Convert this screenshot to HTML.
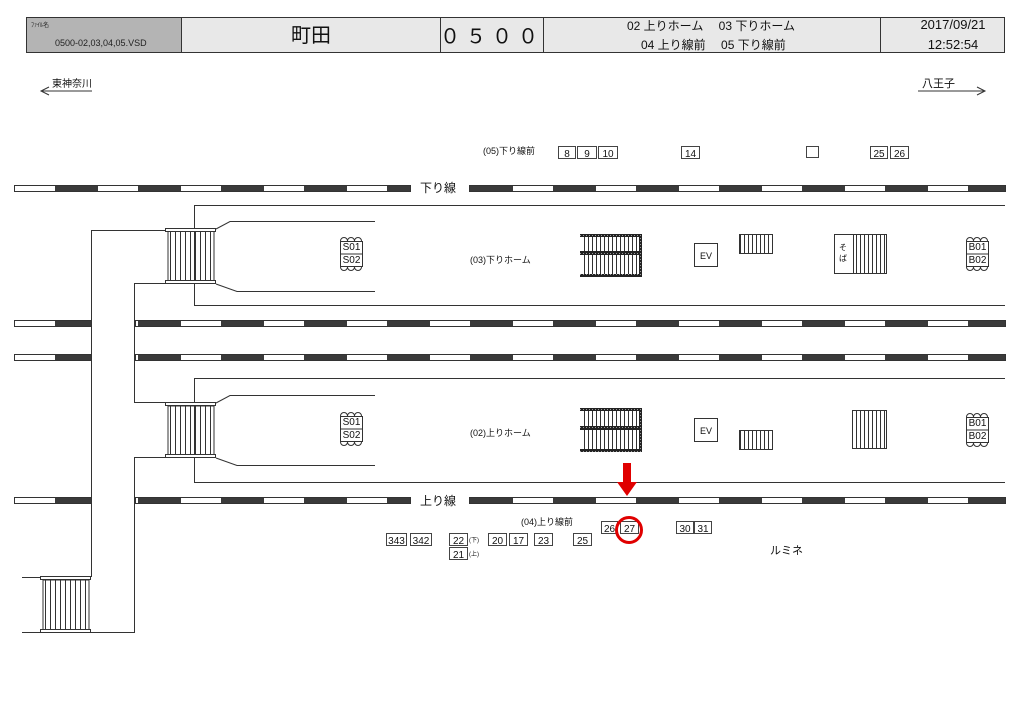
<!DOCTYPE html>
<html><head><meta charset="utf-8"><style>
html,body{margin:0;padding:0;background:#fff;}
svg{display:block;font-family:"Liberation Sans","Noto Sans CJK JP",sans-serif;}
</style></head><body>
<svg width="1024" height="724" viewBox="0 0 1024 724" xmlns="http://www.w3.org/2000/svg">
<defs>
<pattern id="tie" patternUnits="userSpaceOnUse" x="55" y="0" width="83" height="10">
<rect x="0" y="0" width="43" height="10" fill="#3a3a3a"/>
</pattern>
<pattern id="stv" patternUnits="userSpaceOnUse" x="0" y="0" width="5" height="10">
<rect x="0" y="0" width="1" height="10" fill="#333"/>
</pattern>
<pattern id="stv4" patternUnits="userSpaceOnUse" x="0" y="0" width="4" height="10">
<rect x="0" y="0" width="1" height="10" fill="#333"/>
</pattern>
<pattern id="dot" patternUnits="userSpaceOnUse" width="3" height="3">
<rect width="3" height="3" fill="#222"/><rect x="1" y="1" width="1" height="1" fill="#999"/>
</pattern>
</defs>

<!-- header -->
<g stroke="#333" stroke-width="1">
<rect x="26.5" y="17.5" width="155" height="35" fill="#b4b4b4"/>
<rect x="181.5" y="17.5" width="259" height="35" fill="#e8e8e8"/>
<rect x="440.5" y="17.5" width="103" height="35" fill="#e8e8e8"/>
<rect x="543.5" y="17.5" width="337" height="35" fill="#e8e8e8"/>
<rect x="880.5" y="17.5" width="124" height="35" fill="#e8e8e8"/>
</g>
<text x="31" y="27" font-size="6" fill="#222">ﾌｧｲﾙ名</text>
<text x="55" y="46" font-size="9" fill="#222">0500-02,03,04,05.VSD</text>
<text x="311" y="42" font-size="20" text-anchor="middle" fill="#111">町田</text>
<text x="492" y="43" font-size="20" text-anchor="middle" fill="#111" letter-spacing="6">０５００</text>
<text x="627" y="30" font-size="12" fill="#111">02 上りホーム　 03 下りホーム</text>
<text x="641" y="49" font-size="12" fill="#111">04 上り線前　 05 下り線前</text>
<text x="953" y="29" font-size="13" text-anchor="middle" fill="#111">2017/09/21</text>
<text x="953" y="49" font-size="13" text-anchor="middle" fill="#111">12:52:54</text>

<!-- direction -->
<text x="52" y="87" font-size="10" fill="#111">東神奈川</text>
<path d="M41 91H92M49 87L41 91L49 95" fill="none" stroke="#333"/>
<text x="922" y="87" font-size="11" fill="#111">八王子</text>
<path d="M918 91H985M977 87L985 91L977 95" fill="none" stroke="#333"/>

<!-- tracks -->
<g stroke="#333" stroke-width="1">
<rect x="14.5" y="185.5" width="396" height="6" fill="url(#tie)"/>
<rect x="469.5" y="185.5" width="536" height="6" fill="url(#tie)"/>
<rect x="14.5" y="320.5" width="77" height="6" fill="url(#tie)"/>
<rect x="135.5" y="320.5" width="870" height="6" fill="url(#tie)"/>
<rect x="14.5" y="354.5" width="77" height="6" fill="url(#tie)"/>
<rect x="135.5" y="354.5" width="870" height="6" fill="url(#tie)"/>
<rect x="14.5" y="497.5" width="77" height="6" fill="url(#tie)"/>
<rect x="135.5" y="497.5" width="275" height="6" fill="url(#tie)"/>
<rect x="469.5" y="497.5" width="536" height="6" fill="url(#tie)"/>
</g>
<text x="438" y="192" font-size="12" text-anchor="middle" fill="#111">下り線</text>
<text x="438" y="505" font-size="12" text-anchor="middle" fill="#111">上り線</text>

<!-- overpass and platforms lines -->
<g fill="none" stroke="#333" stroke-width="1">
<path d="M91.5 577V230.5H166"/>
<path d="M166 283.5H134.5V402.5H166"/>
<path d="M166 457.5H134.5V632.5H22"/>
<path d="M22 577.5H41"/>
<path d="M1005 205.5H194.5V305.5H1005"/>
<path d="M216 229L230 221.5H375"/>
<path d="M216 284L237 291.5H375"/>
<path d="M1005 378.5H194.5V482.5H1005"/>
<path d="M216 403L230 395.5H375"/>
<path d="M216 458L237 465.5H375"/>
</g>

<!-- overpass stairs -->
<g stroke="#333" stroke-width="1">
<rect x="168" y="231" width="46" height="50" fill="url(#stv)"/>
<rect x="165.5" y="228.5" width="50" height="3" fill="#fff"/>
<rect x="165.5" y="280.5" width="50" height="3" fill="#fff"/>
<rect x="168" y="406" width="46" height="49" fill="url(#stv)"/>
<rect x="165.5" y="402.5" width="50" height="3" fill="#fff"/>
<rect x="165.5" y="454.5" width="50" height="3" fill="#fff"/>
<rect x="43" y="580" width="46" height="50" fill="url(#stv)"/>
<rect x="40.5" y="576.5" width="50" height="3" fill="#fff"/>
<rect x="40.5" y="629.5" width="50" height="3" fill="#fff"/>
</g>

<!-- escalators -->
<g stroke="#222">
<rect x="581" y="236" width="58" height="40" fill="url(#stv4)" stroke="none"/>
<rect x="580" y="234" width="62" height="3" fill="url(#dot)" stroke="none"/>
<rect x="580" y="251" width="62" height="4" fill="url(#dot)" stroke="none"/>
<rect x="580" y="274" width="62" height="3" fill="url(#dot)" stroke="none"/>
<rect x="639" y="234" width="3" height="43" fill="url(#dot)" stroke="none"/>
<rect x="581" y="410" width="58" height="40" fill="url(#stv4)" stroke="none"/>
<rect x="580" y="408" width="62" height="3" fill="url(#dot)" stroke="none"/>
<rect x="580" y="426" width="62" height="4" fill="url(#dot)" stroke="none"/>
<rect x="580" y="449" width="62" height="3" fill="url(#dot)" stroke="none"/>
<rect x="639" y="408" width="3" height="44" fill="url(#dot)" stroke="none"/>
</g>

<!-- EV -->
<g stroke="#333" fill="#fff">
<rect x="694.5" y="243.5" width="23" height="23"/>
<rect x="694.5" y="418.5" width="23" height="23"/>
</g>
<text x="706" y="259" font-size="9" text-anchor="middle" fill="#111">EV</text>
<text x="706" y="434" font-size="9" text-anchor="middle" fill="#111">EV</text>

<!-- small stairs -->
<g stroke="#333">
<rect x="739.5" y="234.5" width="33" height="19" fill="url(#stv4)"/>
<rect x="739.5" y="430.5" width="33" height="19" fill="url(#stv4)"/>
<rect x="834.5" y="234.5" width="19" height="39" fill="#fff"/>
<rect x="853.5" y="234.5" width="33" height="39" fill="url(#stv4)"/>
<rect x="852.5" y="410.5" width="34" height="38" fill="url(#stv4)"/>
</g>
<text x="843" y="250" font-size="8" text-anchor="middle" fill="#111">そ</text>
<text x="843" y="261" font-size="8" text-anchor="middle" fill="#111">ば</text>

<!-- S/B boards -->
<g stroke="#333" fill="#fff" font-size="10">
<g transform="translate(340,237)">
<circle cx="4" cy="4" r="3.5"/><circle cx="11" cy="4" r="3.5"/><circle cx="18" cy="4" r="3.5"/>
<circle cx="4" cy="30" r="3.5"/><circle cx="11" cy="30" r="3.5"/><circle cx="18" cy="30" r="3.5"/>
<rect x="0.5" y="4.5" width="22" height="25"/><line x1="0" y1="17" x2="23" y2="17"/>
</g>
<g transform="translate(340,412)">
<circle cx="4" cy="4" r="3.5"/><circle cx="11" cy="4" r="3.5"/><circle cx="18" cy="4" r="3.5"/>
<circle cx="4" cy="30" r="3.5"/><circle cx="11" cy="30" r="3.5"/><circle cx="18" cy="30" r="3.5"/>
<rect x="0.5" y="4.5" width="22" height="25"/><line x1="0" y1="17" x2="23" y2="17"/>
</g>
<g transform="translate(966,237)">
<circle cx="4" cy="4" r="3.5"/><circle cx="11" cy="4" r="3.5"/><circle cx="18" cy="4" r="3.5"/>
<circle cx="4" cy="30" r="3.5"/><circle cx="11" cy="30" r="3.5"/><circle cx="18" cy="30" r="3.5"/>
<rect x="0.5" y="4.5" width="22" height="25"/><line x1="0" y1="17" x2="23" y2="17"/>
</g>
<g transform="translate(966,413)">
<circle cx="4" cy="4" r="3.5"/><circle cx="11" cy="4" r="3.5"/><circle cx="18" cy="4" r="3.5"/>
<circle cx="4" cy="30" r="3.5"/><circle cx="11" cy="30" r="3.5"/><circle cx="18" cy="30" r="3.5"/>
<rect x="0.5" y="4.5" width="22" height="25"/><line x1="0" y1="17" x2="23" y2="17"/>
</g>
</g>
<g font-size="10" fill="#111" text-anchor="middle">
<text x="351.5" y="250">S01</text><text x="351.5" y="263">S02</text>
<text x="351.5" y="425">S01</text><text x="351.5" y="438">S02</text>
<text x="977.5" y="250">B01</text><text x="977.5" y="263">B02</text>
<text x="977.5" y="426">B01</text><text x="977.5" y="439">B02</text>
</g>

<!-- labels -->
<g font-size="9" fill="#111">
<text x="483" y="154">(05)下り線前</text>
<text x="470" y="263">(03)下りホーム</text>
<text x="470" y="436">(02)上りホーム</text>
<text x="521" y="525">(04)上り線前</text>
</g>
<text x="770" y="554" font-size="11" fill="#111">ルミネ</text>

<!-- numbered boxes -->
<g stroke="#444" fill="#fff">
<rect x="558.5" y="146.5" width="17" height="12"/>
<rect x="577.5" y="146.5" width="19" height="12"/>
<rect x="598.5" y="146.5" width="19" height="12"/>
<rect x="681.5" y="146.5" width="18" height="12"/>
<rect x="806.5" y="146.5" width="12" height="11"/>
<rect x="870.5" y="146.5" width="17" height="12"/>
<rect x="890.5" y="146.5" width="18" height="12"/>
<rect x="386.5" y="533.5" width="20" height="12"/>
<rect x="410.5" y="533.5" width="21" height="12"/>
<rect x="449.5" y="533.5" width="18" height="12"/>
<rect x="488.5" y="533.5" width="18" height="12"/>
<rect x="509.5" y="533.5" width="18" height="12"/>
<rect x="534.5" y="533.5" width="18" height="12"/>
<rect x="573.5" y="533.5" width="18" height="12"/>
<rect x="449.5" y="547.5" width="18" height="12"/>
<rect x="601.5" y="521.5" width="16" height="12"/>
<rect x="620.5" y="521.5" width="18" height="12"/>
<rect x="676.5" y="521.5" width="17" height="12"/>
<rect x="694.5" y="521.5" width="17" height="12"/>
</g>
<g font-size="10" fill="#111" text-anchor="middle">
<text x="567" y="157">8</text><text x="587" y="157">9</text><text x="608" y="157">10</text>
<text x="690.5" y="157">14</text>
<text x="879" y="157">25</text><text x="899.5" y="157">26</text>
<text x="396.5" y="544">343</text><text x="421" y="544">342</text>
<text x="458.5" y="544">22</text><text x="497.5" y="544">20</text>
<text x="518.5" y="544">17</text><text x="543.5" y="544">23</text>
<text x="582.5" y="544">25</text><text x="458.5" y="558">21</text>
<text x="609.5" y="532">26</text><text x="629.5" y="532">27</text>
<text x="685" y="532">30</text><text x="703" y="532">31</text>
</g>
<text x="469" y="542" font-size="6" fill="#111">(下)</text>
<text x="469" y="556" font-size="6" fill="#111">(上)</text>

<!-- highlight -->
<circle cx="629" cy="530" r="12.5" fill="none" stroke="#e00000" stroke-width="3"/>
<path d="M623 463H631V482H637L627 496L617 482H623Z" fill="#e00000"/>
</svg>
</body></html>
